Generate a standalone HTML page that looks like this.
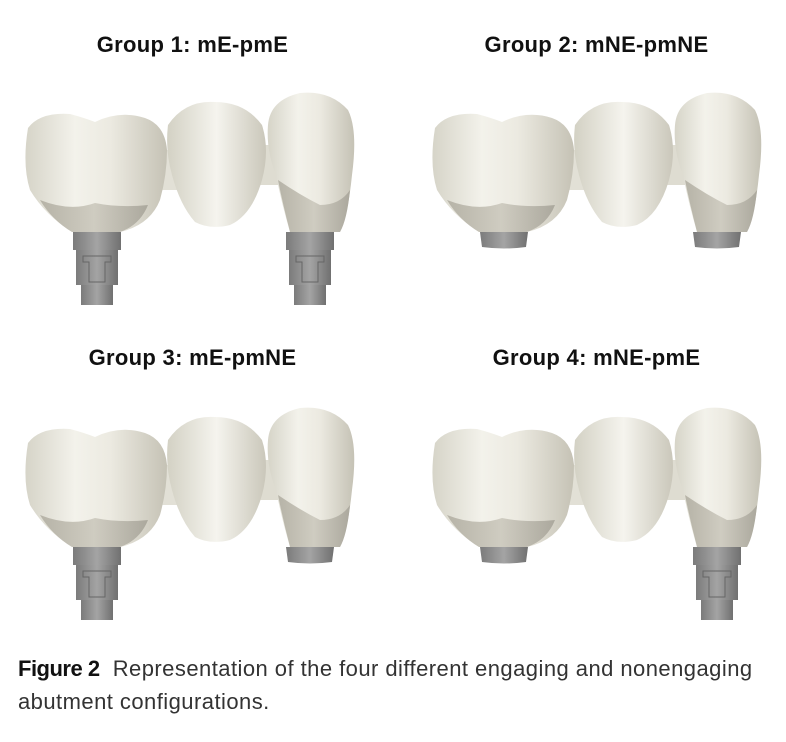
<!DOCTYPE html>
<html><head><meta charset="utf-8"><style>
html,body{margin:0;padding:0;background:#fff;}
body{width:786px;height:742px;position:relative;overflow:hidden;font-family:"Liberation Sans",sans-serif;}
.t{position:absolute;font-weight:bold;font-size:22px;color:#111;width:393px;text-align:center;letter-spacing:0.3px;}
.cap{position:absolute;left:18px;font-size:22px;color:#333;letter-spacing:0.45px;white-space:nowrap;}
svg{position:absolute;left:0;top:0;}
</style></head><body>
<svg width="786" height="742" viewBox="0 0 786 742">
<defs>
<linearGradient id="cr" x1="0" y1="0" x2="1" y2="0">
<stop offset="0" stop-color="#d6d4c8"/><stop offset="0.35" stop-color="#f3f2eb"/><stop offset="0.6" stop-color="#eceae1"/><stop offset="1" stop-color="#c5c2b5"/></linearGradient>
<linearGradient id="pt" x1="0" y1="0" x2="1" y2="0">
<stop offset="0" stop-color="#d3d1c4"/><stop offset="0.5" stop-color="#f5f4ee"/><stop offset="1" stop-color="#cac7ba"/></linearGradient>
<linearGradient id="lo" x1="0" y1="0" x2="1" y2="0">
<stop offset="0" stop-color="#b6b3a7"/><stop offset="0.5" stop-color="#cfccc1"/><stop offset="1" stop-color="#aba89d"/></linearGradient>
<linearGradient id="gr" x1="0" y1="0" x2="1" y2="0">
<stop offset="0" stop-color="#7b7b7b"/><stop offset="0.5" stop-color="#a4a4a4"/><stop offset="1" stop-color="#707070"/></linearGradient>
<g id="bridge">
<rect x="155" y="150" width="25" height="40" fill="#e2e0d6"/>
<rect x="258" y="145" width="20" height="40" fill="#dedcd1"/>
<path d="M28 128 Q40 112 70 114 Q85 118 95 122 Q120 110 145 118 Q165 125 167 150 Q167 175 160 200 Q150 225 120 232 L72 232 Q45 215 30 190 Q22 165 28 128 Z" fill="url(#cr)"/>
<path d="M40 200 Q70 212 95 203 Q120 208 148 205 Q140 225 120 232 L72 232 Q52 220 40 200 Z" fill="url(#lo)"/>
<path d="M168 125 Q185 100 215 102 Q245 102 262 125 Q270 150 262 180 Q252 215 230 225 Q210 230 195 222 Q180 205 172 175 Q165 150 168 125 Z" fill="url(#pt)"/>
<path d="M268 125 Q270 100 300 93 Q330 90 348 110 Q358 130 352 175 Q348 215 340 232 L290 232 Q282 205 276 175 Q266 150 268 125 Z" fill="url(#cr)"/>
<path d="M278 180 Q300 195 320 205 Q340 205 350 190 Q347 220 340 232 L290 232 Q283 205 278 180 Z" fill="url(#lo)"/>
</g>
<g id="eng">
<rect x="-24" y="0" width="48" height="18" fill="url(#gr)"/>
<rect x="-21" y="18" width="42" height="35" fill="url(#gr)"/>
<path d="M-14 24 H14 V30 H8 V50 H-8 V30 H-14 Z" fill="none" stroke="#666" stroke-width="1"/>
<rect x="-16" y="53" width="32" height="20" fill="url(#gr)"/>
</g>
<g id="ne">
<path d="M-24 0 H24 L22 15 Q0 18 -22 15 Z" fill="url(#gr)"/>
</g>
</defs>
<use href="#bridge"/>
<use href="#eng" x="97" y="232"/>
<use href="#eng" x="310" y="232"/>
<use href="#bridge" x="407"/>
<use href="#ne" x="504" y="232"/>
<use href="#ne" x="717" y="232"/>
<use href="#bridge" y="315"/>
<use href="#eng" x="97" y="547"/>
<use href="#ne" x="310" y="547"/>
<use href="#bridge" x="407" y="315"/>
<use href="#ne" x="504" y="547"/>
<use href="#eng" x="717" y="547"/>
</svg>
<div class="t" style="left:-4px;top:32px;">Group 1: mE-pmE</div>
<div class="t" style="left:400px;top:32px;">Group 2: mNE-pmNE</div>
<div class="t" style="left:-4px;top:345px;">Group 3: mE-pmNE</div>
<div class="t" style="left:400px;top:345px;">Group 4: mNE-pmE</div>
<div class="cap" style="top:656px;"><b style="color:#111;letter-spacing:-0.5px;">Figure 2</b>&nbsp; Representation of the four different engaging and nonengaging</div>
<div class="cap" style="top:689px;">abutment configurations.</div>
</body></html>
